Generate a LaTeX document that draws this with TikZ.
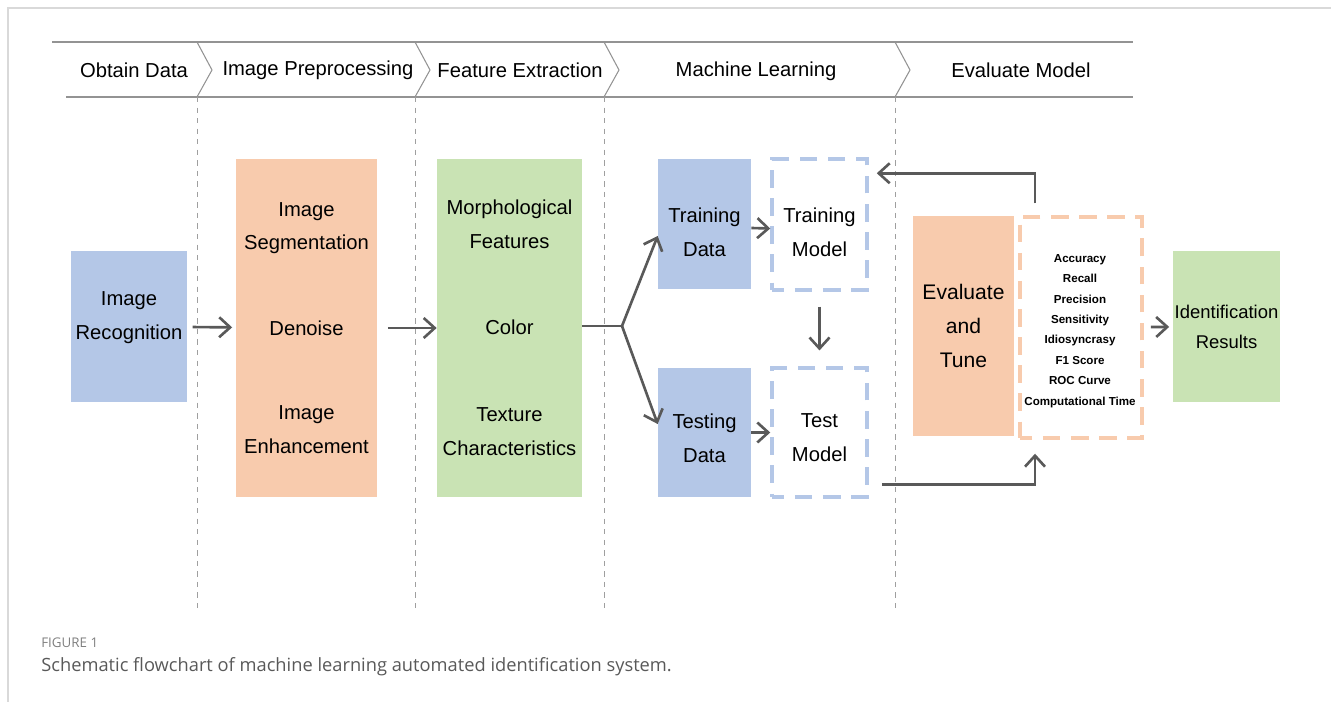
\documentclass[tikz,border=0pt]{standalone}
\usepackage{fontspec}
\setmainfont{Liberation Sans}
\newfontfamily\capfont{Open Sans}
\usetikzlibrary{positioning,arrows.meta,calc}

\definecolor{boxblue}{HTML}{B4C7E7}
\definecolor{boxorange}{HTML}{F8CBAD}
\definecolor{boxgreen}{HTML}{C9E3B4}
\definecolor{arrgray}{HTML}{595959}

\begin{document}
\begin{tikzpicture}[x=0.02cm,y=-0.02cm,
  box/.style={fill=#1,inner sep=0pt,align=center,font=\fontsize{11.5}{19.3}\selectfont},
  dbox/.style={draw=#1,line width=2pt,dash pattern=on 10pt off 6pt,dash phase=3pt,fill=white,inner sep=0pt},
  txt/.style={inner sep=0pt,align=center,font=\fontsize{11.5}{19.3}\selectfont},
  arr/.style={draw=arrgray,line width=1.5pt,-{Straight Barb[length=2.2mm,width=4mm]}},
  hdr/.style={draw=gray!85,line width=0.6pt},
  sep/.style={draw=gray!75,dashed,line width=0.5pt},
  head/.style={font=\fontsize{11.5}{14}\selectfont,inner sep=0pt},
]
\useasboundingbox (0,0) rectangle (1331,702);

% === Figure frame ===
\draw[gray!30,line width=0.8pt] (8,702) -- (8,8) -- (1331,8);

% === Stage header ===
\draw[hdr] (52,42) -- (1133,42);
\draw[hdr] (66,97) -- (1133,97);
\foreach \x in {197,415,604,895}
  \draw[hdr] (\x,42) -- (\x+15,70) -- (\x,97);
\foreach \x in {197,415,604,895}
  \draw[sep] (\x,97) -- (\x,610);

\node[head] (hObtain) at (134,70) {Obtain Data};
\node[head] (hPre) at (318,70) {Image Preprocessing};
\node[head] (hFeat) at (520,70) {Feature Extraction};
\node[head] (hML) at (756,71) {Machine Learning};
\node[head] (hEval) at (1021,70) {Evaluate Model};

% === Boxes ===
\node[box=boxblue,minimum width=2.32cm,minimum height=3.02cm] (imgRec) at (129,326.5) {};
\node[txt] (imgRecL) at (129,318) {Image\\Recognition};
\node[box=boxorange,minimum width=2.82cm,minimum height=6.76cm] (preproc) at (306.5,328)
  {Image\\Segmentation\\[1.04cm]Denoise\\[1.0cm]Image\\Enhancement};
\node[box=boxgreen,minimum width=2.9cm,minimum height=6.76cm] (feat) at (509.5,328)
  {Morphological\\Features\\[1.04cm]Color\\[1.06cm]Texture\\Characteristics};

\node[box=boxblue,minimum width=1.86cm,minimum height=2.6cm] (trainD) at (704.5,224) {};
\node[txt] (trainDL) at (704.5,232) {Training\\Data};
\node[box=boxblue,minimum width=1.86cm,minimum height=2.58cm] (testD) at (704.5,432.5) {};
\node[txt] (testDL) at (704.5,438) {Testing\\Data};
\node[dbox=boxblue,minimum width=1.9cm,minimum height=2.62cm] (trainM) at (819.5,224.5) {};
\node[txt] (trainML) at (819.5,232) {Training\\Model};
\node[dbox=boxblue,minimum width=1.9cm,minimum height=2.58cm] (testM) at (819.5,432.5) {};
\node[txt] (testML) at (819.5,438) {Test\\Model};

\node[box=boxorange,minimum width=2.02cm,minimum height=4.42cm,font=\fontsize{12}{19.5}\selectfont] (evalT) at (963.5,326) {Evaluate\\and\\Tune};
\node[dbox=boxorange,minimum width=2.44cm,minimum height=4.42cm] (metrics) at (1081,327.5) {};
\node[txt,font=\bfseries\fontsize{6.6}{11.6}\selectfont] (metricsL) at (1080,331)
  {Accuracy\\Recall\\Precision\\Sensitivity\\Idiosyncrasy\\F1 Score\\ROC Curve\\Computational Time};
\node[box=boxgreen,minimum width=2.14cm,minimum height=3.02cm,font=\fontsize{10.5}{17}\selectfont] (idRes) at (1226.5,326.5) {Identification\\Results};

% === Connectors ===
\coordinate (split) at (622,326);
\draw[arr,shorten <=3pt,shorten >=2pt] (imgRec) -- (preproc);
\draw[arr,shorten <=6pt] (preproc) -- (feat);
\draw[draw=arrgray,line width=1.5pt] (feat.east |- split) -- (split);
\draw[arr] (split) -- ($(trainD.west)+(0,12)$);
\draw[arr] (split) -- ($(testD.west)+(0,-8.5)$);
\draw[arr] ($(trainD.east)+(0,4)$) -- ($(trainM.west)+(0,4)$);
\draw[arr] (testD.east) -- (testM.west);
\draw[arr,shorten <=8.5pt,shorten >=9pt] (trainM) -- (testM);
\draw[arr] ($(testM.south east)+(13,-14)$) -| ($(metrics.south)+(-46,14)$);
\draw[arr] ($(metrics.north)+(-46,-12)$) |- ($(trainM.north east)+(8,16)$);
\draw[arr,shorten <=4pt,shorten >=2pt] (metrics) -- (idRes);

% === Caption ===
\node[anchor=west,inner sep=0pt,text=gray,font=\capfont\fontsize{7.6}{10}\selectfont] (figNum) at (41,643) {FIGURE 1};
\node[anchor=west,inner sep=0pt,text=black!65,font=\capfont\fontsize{10.4}{12}\selectfont] (figCap) at (41,667)
  {Schematic flowchart of machine learning automated identification system.};

\end{tikzpicture}
\end{document}
